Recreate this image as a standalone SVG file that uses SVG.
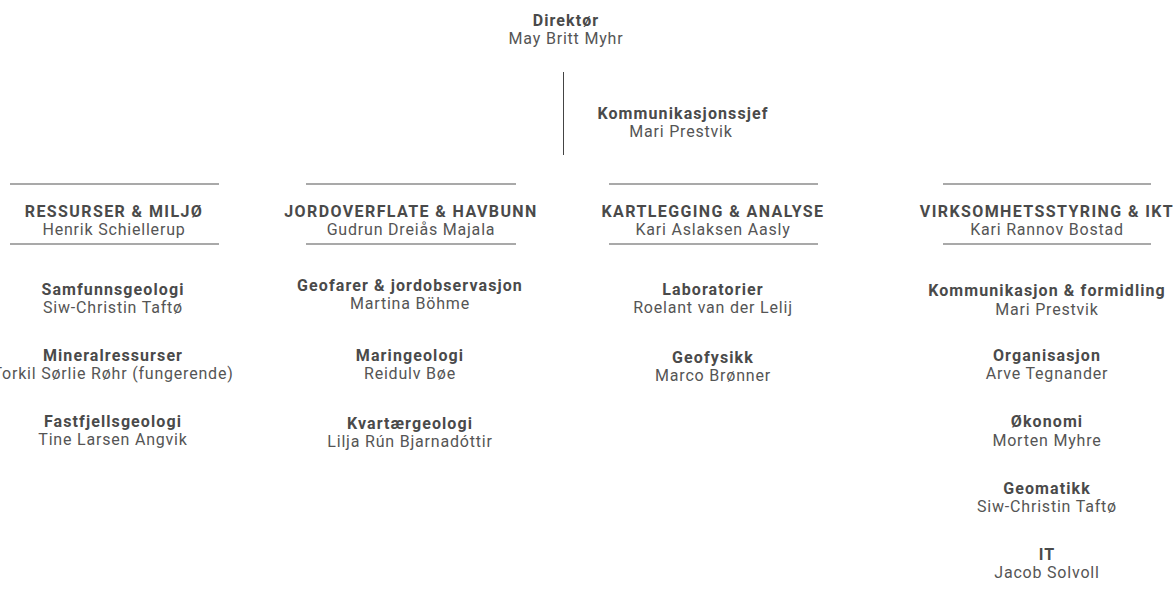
<svg xmlns="http://www.w3.org/2000/svg" width="1173" height="589" viewBox="0 0 1173 589">
<style>
text{font-family:Roboto,"Liberation Sans",sans-serif;font-size:16px;text-anchor:middle}
.b{font-weight:bold;fill:#4a4a4a;letter-spacing:1.1px}
.h{letter-spacing:1.4px}
.r{fill:#555;letter-spacing:0.8px}
.sep{stroke:#8c8c8c;stroke-width:1.6}
.v{stroke:#444;stroke-width:1}
</style>
<rect width="1173" height="589" fill="#fff"/>
<g id="connectors">
<line class="v" x1="563.5" y1="72" x2="563.5" y2="155"/>
</g>
<g id="direktor"><text class="b" x="566" y="26">Direktør</text><text class="r" x="566" y="44">May Britt Myhr</text></g>
<g id="kommsjef"><text class="b" x="683" y="119">Kommunikasjonssjef</text><text class="r" x="681" y="137">Mari Prestvik</text></g>

<g id="col1">
<line class="sep" x1="10" y1="184" x2="219" y2="184"/>
<line class="sep" x1="10" y1="244" x2="219" y2="244"/>
<text class="b h" x="114" y="217">RESSURSER &amp; MILJØ</text><text class="r" x="114" y="235">Henrik Schiellerup</text>
</g>
<g id="samfunn"><text class="b" x="113" y="295">Samfunnsgeologi</text><text class="r" x="113" y="313">Siw-Christin Taftø</text></g>
<g id="mineral"><text class="b" x="113" y="361">Mineralressurser</text><text class="r" x="113" y="379">Torkil Sørlie Røhr (fungerende)</text></g>
<g id="fastfjell"><text class="b" x="113" y="427">Fastfjellsgeologi</text><text class="r" x="113" y="445">Tine Larsen Angvik</text></g>

<g id="col2">
<line class="sep" x1="306" y1="184" x2="516" y2="184"/>
<line class="sep" x1="306" y1="244" x2="516" y2="244"/>
<text class="b h" x="411" y="217">JORDOVERFLATE &amp; HAVBUNN</text><text class="r" x="411" y="235">Gudrun Dreiås Majala</text>
</g>
<g id="geofarer"><text class="b" x="410" y="291">Geofarer &amp; jordobservasjon</text><text class="r" x="410" y="309">Martina Böhme</text></g>
<g id="maringeo"><text class="b" x="410" y="361">Maringeologi</text><text class="r" x="410" y="379">Reidulv Bøe</text></g>
<g id="kvartaer"><text class="b" x="410" y="429">Kvartærgeologi</text><text class="r" x="410" y="447">Lilja Rún Bjarnadóttir</text></g>

<g id="col3">
<line class="sep" x1="609" y1="184" x2="818" y2="184"/>
<line class="sep" x1="609" y1="244" x2="818" y2="244"/>
<text class="b h" x="713" y="217">KARTLEGGING &amp; ANALYSE</text><text class="r" x="713" y="235">Kari Aslaksen Aasly</text>
</g>
<g id="lab"><text class="b" x="713" y="295">Laboratorier</text><text class="r" x="713" y="313">Roelant van der Lelij</text></g>
<g id="geofysikk"><text class="b" x="713" y="363">Geofysikk</text><text class="r" x="713" y="381">Marco Brønner</text></g>

<g id="col4">
<line class="sep" x1="943" y1="184" x2="1151" y2="184"/>
<line class="sep" x1="943" y1="244" x2="1151" y2="244"/>
<text class="b h" x="1047" y="217">VIRKSOMHETSSTYRING &amp; IKT</text><text class="r" x="1047" y="235">Kari Rannov Bostad</text>
</g>
<g id="kommform"><text class="b" x="1047" y="296">Kommunikasjon &amp; formidling</text><text class="r" x="1047" y="315">Mari Prestvik</text></g>
<g id="org"><text class="b" x="1047" y="361">Organisasjon</text><text class="r" x="1047" y="379">Arve Tegnander</text></g>
<g id="okonomi"><text class="b" x="1047" y="427">Økonomi</text><text class="r" x="1047" y="446">Morten Myhre</text></g>
<g id="geomatikk"><text class="b" x="1047" y="494">Geomatikk</text><text class="r" x="1047" y="512">Siw-Christin Taftø</text></g>
<g id="it"><text class="b" x="1047" y="560">IT</text><text class="r" x="1047" y="578">Jacob Solvoll</text></g>
</svg>
